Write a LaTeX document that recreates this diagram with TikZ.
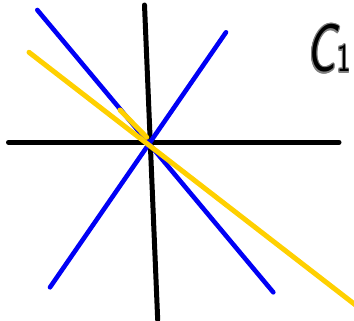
\documentclass[tikz,border=0pt]{standalone}
\usepackage{contour}
\usepackage{tikz}
\usetikzlibrary{positioning}
\definecolor{penblue}{RGB}{0,0,245}
\definecolor{penyellow}{RGB}{255,208,0}
\contourlength{1.3pt}
\contournumber{16}

\begin{document}
\begin{tikzpicture}[
  x=1pt, y=-1pt,
  axis/.style={line width=5pt, line cap=round, black},
  blueln/.style={line width=4.6pt, line cap=round, penblue},
  yellowln/.style={line width=5pt, line cap=round, penyellow}
]
\useasboundingbox (0,0) rectangle (354,321);

% ---- Axes ----
\draw[axis] (8.5,142.3) -- (339,142.3);
\draw[axis] (144.5,5) -- (157.7,320);

% ---- Blue lines ----
\draw[blueln] (37.3,10) -- (273.3,292.3);
\draw[blueln] (50,287.3) -- (226,32.3);

% ---- Yellow lines ----
\draw[yellowln] (29,52.3) -- (362,310);
\draw[yellowln] (120,110) -- (146.7,137.3);

% ---- Label ----
\node[anchor=base west, inner sep=0pt, xscale=0.72,
      font=\sffamily\slshape\fontsize{68}{70}\selectfont]
  (lbl) at (306,72) {\contour{gray}{C\kern2pt\fontsize{40}{42}\selectfont\upshape 1}};
\end{tikzpicture}
\end{document}
